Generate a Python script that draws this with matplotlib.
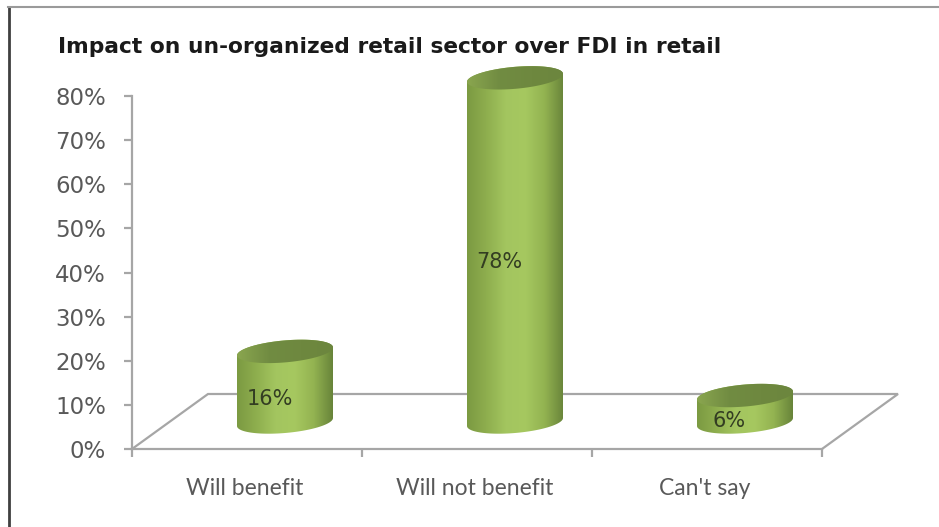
import numpy as np
import matplotlib
matplotlib.use("Agg")
import matplotlib.pyplot as plt
from matplotlib.colors import LinearSegmentedColormap
from matplotlib.lines import Line2D
from matplotlib.patches import PathPatch
from matplotlib.path import Path

categories = ["Will benefit", "Will not benefit", "Can't say"]
values = [16, 78, 6]
value_labels = ["16%", "78%", "6%"]
y_ticks = [0, 10, 20, 30, 40, 50, 60, 70, 80]
title = "Impact on un-organized retail sector over FDI in retail"

W, H = 939, 527
fig = plt.figure(figsize=(W / 100, H / 100), dpi=100, facecolor="white")

# Axes rectangle in pixels: front-left floor corner to the top of the value axis
left, right, bottom, top = 132, 822, 449, 96
ax = fig.add_axes([left / W, 1 - bottom / H, (right - left) / W, (bottom - top) / H])
ax.patch.set_visible(False)

px_x = 3 / (right - left)
px_y = 80 / (bottom - top)

grey = "#a6a6a6"
for side in ("top", "right"):
    ax.spines[side].set_visible(False)
for side in ("left", "bottom"):
    ax.spines[side].set_color(grey)
    ax.spines[side].set_linewidth(1.6)

ax.set_yticks(y_ticks)
ax.set_yticklabels([f"{v}%" for v in y_ticks], fontsize=16.5, color="#595959",
                   family="DejaVu Sans")
ax.set_xticks([0, 1, 2, 3])
ax.set_xticklabels([])
ax.tick_params(axis="both", color=grey, width=1.6, length=5.8, direction="out")
ax.tick_params(axis="y", pad=13)

# Floor parallelogram receding behind the front axis
floor_dx, floor_dy = 76 * px_x, 55 * px_y
ax.plot([0, floor_dx, 3 + floor_dx, 3], [0, floor_dy, floor_dy, 0], color=grey,
        lw=1.6, clip_on=False, zorder=1, solid_joinstyle="miter")

# Shading across the curved wall and the top cap of each cylinder
wall_cmap = LinearSegmentedColormap.from_list(
    "wall", ["#7b9a42", "#8eae4e", "#a3c55f", "#a6c860", "#93b351", "#68843a"])
cap_cmap = LinearSegmentedColormap.from_list(
    "cap", ["#8aa64f", "#718c42", "#6e883f", "#6c863e"])

half_w = 48 * px_x
minor = 11 * px_y
tilt = 4.0 * px_y
base_y = 27 * px_y
depth_shift = 38 * px_x
theta = np.linspace(0, 2 * np.pi, 121)


def rim(cx, cy, angles):
    return cx + half_w * np.cos(angles), cy + minor * np.sin(angles) + tilt * np.cos(angles)


def closed_patch(xs, ys):
    verts = np.column_stack([xs, ys])
    verts = np.vstack([verts, verts[0]])
    codes = [Path.MOVETO] + [Path.LINETO] * (len(verts) - 2) + [Path.CLOSEPOLY]
    patch = PathPatch(Path(verts, codes), fc="none", ec="none", transform=ax.transData)
    ax.add_patch(patch)
    return patch


def gradient(patch, cmap, x0, x1, y0, y1, z):
    strip = np.linspace(0, 1, 256).reshape(1, -1)
    im = ax.imshow(strip, cmap=cmap, extent=[x0, x1, y0, y1], aspect="auto",
                   zorder=z, interpolation="bilinear")
    # The tallest cylinder's cap rises above the value axis, so clip to the figure
    im.set_clip_box(fig.bbox)
    im.set_clip_path(patch)


for i, (value, label) in enumerate(zip(values, value_labels)):
    slot = i + 0.5
    cx = slot + depth_shift
    top_y = base_y + value

    bx, by = rim(cx, base_y, np.linspace(np.pi, 2 * np.pi, 61))
    tx, ty = rim(cx, top_y, np.linspace(0, np.pi, 61))
    wall = closed_patch(np.r_[bx, tx], np.r_[by, ty])
    gradient(wall, wall_cmap, cx - half_w, cx + half_w,
             base_y - 2 * minor, top_y + 2 * minor, 3)

    cap_x, cap_y = rim(cx, top_y, theta)
    cap = closed_patch(cap_x, cap_y)
    gradient(cap, cap_cmap, cx - half_w, cx + half_w,
             top_y - 2 * minor, top_y + 2 * minor, 4)

    ax.text(cx - 15.5 * px_x, base_y + value * 0.5 - 2.75, label, ha="center",
            va="center", fontsize=15, color="#333d22", family="DejaVu Sans", zorder=5)
    ax.text(slot - 2.5 * px_x, -8.9, categories[i], ha="center", va="center",
            fontsize=16.5, color="#595959", family="Lato", clip_on=False)

ax.set_xlim(0, 3)
ax.set_ylim(0, 80)

fig.text(58 / W, 1 - 47 / H, title, fontsize=15.7, fontweight="bold", color="#1a1a1a",
         family="DejaVu Sans", ha="left", va="center")

# Outer frame of the chart area
fig.add_artist(Line2D([9 / W, 9 / W], [1 - 7 / H, 0], color="#404040", lw=2,
                      transform=fig.transFigure))
fig.add_artist(Line2D([8 / W, 1], [1 - 7 / H, 1 - 7 / H], color="#9a9a9a", lw=1.5,
                      transform=fig.transFigure))

fig.savefig("out.png", dpi=100, facecolor="white")
